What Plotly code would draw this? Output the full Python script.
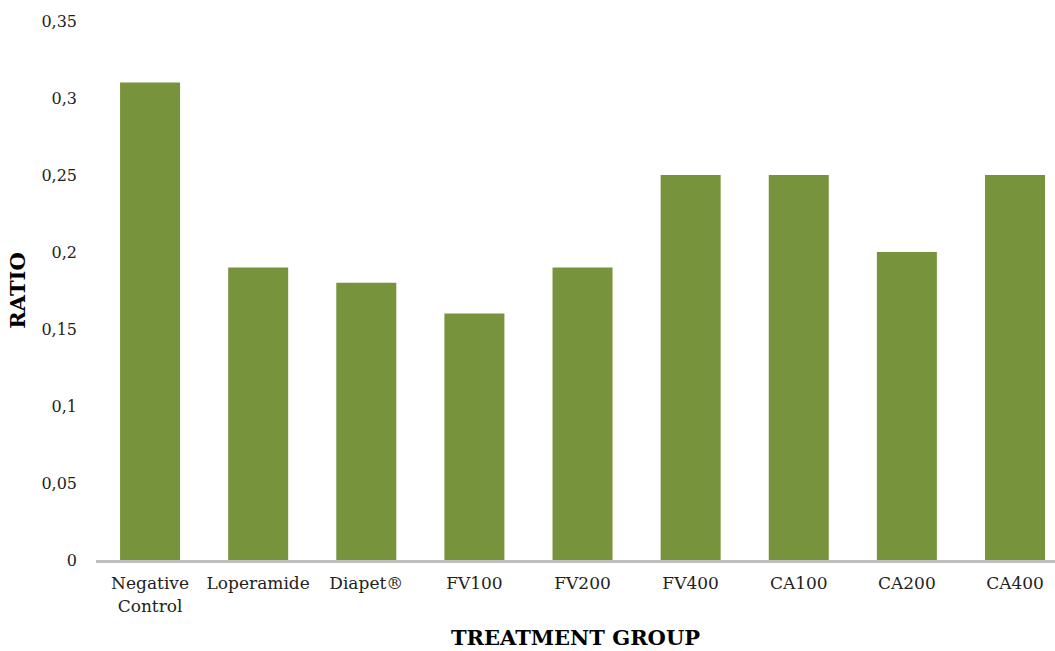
import plotly.graph_objects as go

categories = ["Negative<br>Control", "Loperamide", "Diapet®", "FV100", "FV200",
              "FV400", "CA100", "CA200", "CA400"]
ratio = [0.31, 0.19, 0.18, 0.16, 0.19, 0.25, 0.25, 0.20, 0.25]
y_ticks = [0, 0.05, 0.1, 0.15, 0.2, 0.25, 0.3, 0.35]

font_family = "DejaVu Serif, Liberation Serif, serif"

fig = go.Figure(go.Bar(
    x=categories, y=ratio,
    marker=dict(color="#77933C", line=dict(width=0)),
))

fig.update_layout(
    width=1055, height=651,
    margin=dict(l=96, r=0, t=21, b=91),
    plot_bgcolor="white", paper_bgcolor="white",
    separators=",.",
    bargap=0.445,
    showlegend=False,
    font=dict(family=font_family, size=17, color="#222222"),
    xaxis=dict(
        range=[-0.5, 8.37],
        showline=True, linecolor="#BFBFBF", linewidth=3,
        showgrid=False, ticks="",
        ticklabelstandoff=6,
        tickfont=dict(size=17),
        title=dict(text="<b>TREATMENT GROUP</b>", font=dict(size=21, color="black"), standoff=16),
    ),
    yaxis=dict(
        range=[0, 0.35], tickvals=y_ticks,
        showline=False, showgrid=False, zeroline=False, ticks="",
        ticklabelstandoff=18,
        tickfont=dict(size=16),
        title=dict(text="<b>RATIO</b>", font=dict(size=21, color="black"), standoff=10),
    ),
)

fig.write_html("out.html")
